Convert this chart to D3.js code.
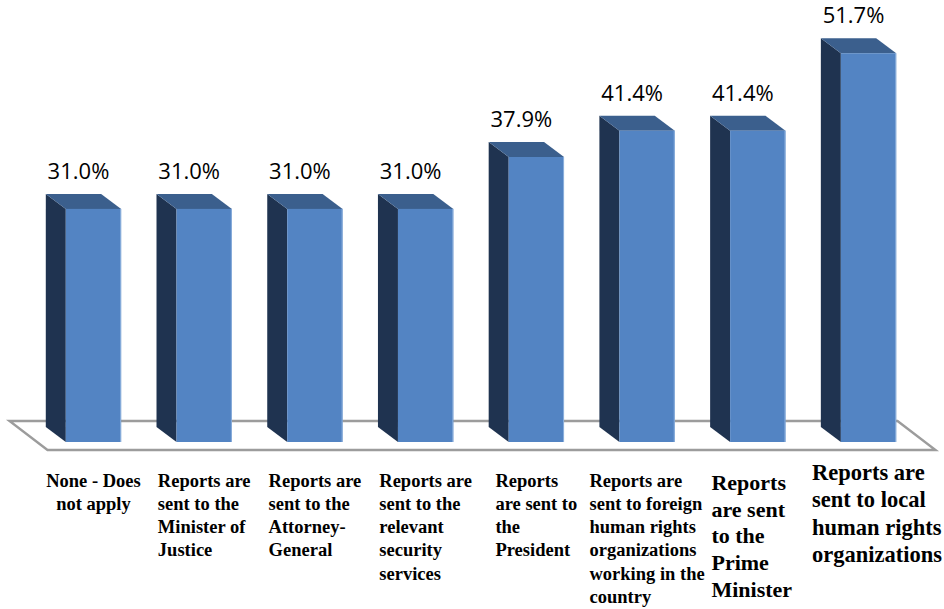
<!DOCTYPE html>
<html lang="en">
<head>
<meta charset="UTF-8">
<title>Where reports are sent</title>
<style>
  body { margin: 0; background: #fff; }
  .value { font-family: "Open Sans", sans-serif; font-size: 22px; fill: #000; }
  .cat { font-family: "Liberation Serif", "Times New Roman", serif; font-weight: bold; fill: #000; }
</style>
</head>
<body>
<div id="chart"></div>
<script src="https://d3js.org/d3.v7.min.js"></script>
<script>
const categories = [
  "None - Does not apply",
  "Reports are sent to the Minister of Justice",
  "Reports are sent to the Attorney-General",
  "Reports are sent to the relevant security services",
  "Reports are sent to the President",
  "Reports are sent to foreign human rights organizations working in the country",
  "Reports are sent to the Prime Minister",
  "Reports are sent to local human rights organizations"
];
const labelLines = [
  ["None - Does", "not apply"],
  ["Reports are", "sent to the", "Minister of", "Justice"],
  ["Reports are", "sent to the", "Attorney-", "General"],
  ["Reports are", "sent to the", "relevant", "security", "services"],
  ["Reports", "are sent to", "the", "President"],
  ["Reports are", "sent to foreign", "human rights", "organizations", "working in the", "country"],
  ["Reports", "are sent", "to the", "Prime", "Minister"],
  ["Reports are", "sent to local", "human rights", "organizations"]
];
const values = [31.0, 31.0, 31.0, 31.0, 37.9, 41.4, 41.4, 51.7];

const width = 944, height = 609;
const depth = { x: 20, y: 15 };

const svg = d3.select("#chart")
  .append("svg")
  .attr("width", width)
  .attr("height", height);

const x = d3.scaleBand()
  .domain(categories)
  .range([37, 925])
  .paddingInner(0.5)
  .paddingOuter(0.26);

const y = d3.scaleLinear()
  .domain([0, 50])
  .range([442, 66]);

// floor of the 3d plot
const y0 = y(0);
const [fx0, fx1] = x.range();
const floorPts = [
  [fx0 - 27.5, y0 - 21], [fx1 - 27.5, y0 - 21],
  [fx1 + 10.5, y0 + 8], [fx0 + 10.5, y0 + 8]
];
svg.append("polygon")
  .attr("points", floorPts.map(p => p.join(",")).join(" "))
  .style("fill", "#fff")
  .style("stroke", "#9c9c9c")
  .style("stroke-width", 2.4);

// bars: left side, top, front
const bars = svg.append("g").selectAll("g")
  .data(values)
  .join("g");

bars.each(function(v, i) {
  const g = d3.select(this);
  const x0 = x(categories[i]), w = x.bandwidth();
  const yt = y(v);
  g.append("polygon")
    .attr("points", [[x0 - depth.x, yt - depth.y], [x0, yt], [x0, y0], [x0 - depth.x, y0 - depth.y]].map(p => p.join(",")).join(" "))
    .style("fill", "#1f3350");
  g.append("polygon")
    .attr("points", [[x0 - depth.x, yt - depth.y], [x0 + w - depth.x, yt - depth.y], [x0 + w, yt], [x0, yt]].map(p => p.join(",")).join(" "))
    .style("fill", "#3b5f8d");
  g.append("rect")
    .attr("x", x0)
    .attr("y", yt)
    .attr("width", w)
    .attr("height", y0 - yt)
    .style("fill", "#5384c3");
  g.append("line")
    .attr("x1", x0 + w - 0.5).attr("x2", x0 + w - 0.5)
    .attr("y1", yt).attr("y2", y0)
    .style("stroke", "#8db0dc")
    .style("stroke-width", 1);
});

// value labels above the back face
svg.append("g").selectAll("text")
  .data(values)
  .join("text")
  .attr("class", "value")
  .attr("x", (d, i) => x(categories[i]) + x.bandwidth() / 2 - 15)
  .attr("y", d => y(d) - depth.y - 15)
  .attr("text-anchor", "middle")
  .text(d => d3.format(".1f")(d) + "%");

// category labels, wrapped as in the original
labelLines.forEach((lines, i) => {
  const big = i >= 6;
  const size = i === 7 ? 22.5 : (big ? 22 : 18.5);
  const lh = i === 7 ? 27.3 : (big ? 26.7 : 23.3);
  const top = i === 7 ? 480 : (i === 6 ? 490 : 486.5);
  const cx = x(categories[i]) + x.bandwidth() / 2;
  const t = svg.append("text")
    .attr("class", "cat")
    .style("font-size", size + "px");
  const spans = lines.map((s, k) => t.append("tspan")
    .attr("y", top + k * lh)
    .text(s));
  const maxW = d3.max(spans, s => s.node().getComputedTextLength());
  if (i === 0) {
    t.attr("text-anchor", "middle");
    spans.forEach(s => s.attr("x", cx));
  } else {
    // last label sits flush with the right edge
    const left = i === labelLines.length - 1 ? width - 2 - maxW : cx - maxW / 2 - (big ? 6 : 0);
    spans.forEach(s => s.attr("x", left));
  }
});
</script>
</body>
</html>
